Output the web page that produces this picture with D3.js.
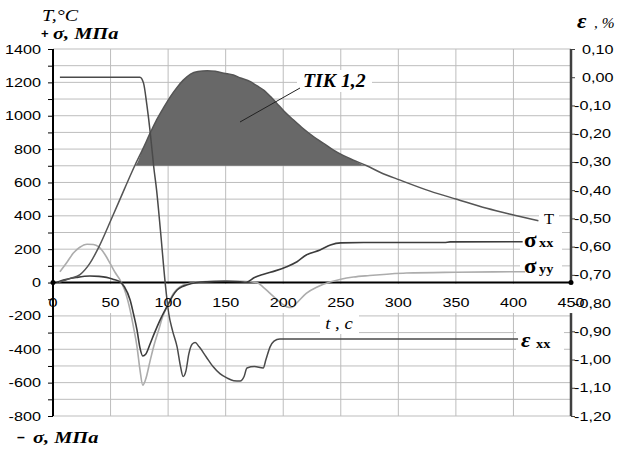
<!DOCTYPE html>
<html>
<head>
<meta charset="utf-8">
<script src="https://cdn.jsdelivr.net/npm/d3@7"></script>
<style>
body { margin: 0; background: #fff; }
svg { display: block; }
</style>
</head>
<body>
<div id="chart"></div>
<script>
// time ticks and axis ticks
const xTicks = [0, 50, 100, 150, 200, 250, 300, 350, 400, 450];
const leftTicks = [-800, -600, -400, -200, 0, 200, 400, 600, 800, 1000, 1200, 1400];
const rightTicks = [0.1, 0, -0.1, -0.2, -0.3, -0.4, -0.5, -0.6, -0.7, -0.8, -0.9, -1.0, -1.1, -1.2];

// temperature T, °C  [t, value]
const tempData = [
	[5, 0], [9, 11], [15, 25], [23.5, 48], [32, 115], [40, 215], [51, 385], [62, 560],
	[71, 700], [78, 800], [84.7, 900], [90, 975], [96.2, 1050], [102, 1115], [107.8, 1170],
	[113, 1212], [119.5, 1250], [126, 1265], [134, 1270], [141, 1266], [148.5, 1255],
	[156.7, 1244], [163, 1226], [171.5, 1204], [177, 1180], [183, 1154], [189, 1115],
	[194.5, 1074], [201, 1025], [209, 974], [217, 925], [226.5, 874], [235, 835],
	[243.7, 794], [252, 762], [261, 734], [272.6, 700], [284.5, 660], [301.6, 614],
	[327.6, 548], [350.8, 499], [376.8, 445], [400, 405], [421.7, 370]
];

// sigma xx, MPa
const sxxData = [
	[3, 0], [9, 15], [20, 30], [32, 39], [40, 37], [46.6, 31], [52, 20], [58, 5], [62, -25],
	[67, -105], [70, -190], [73, -285], [75.5, -390], [78, -440], [80.5, -430], [84.5, -365],
	[88, -305], [93, -225], [100.5, -125], [104, -80], [107.8, -45], [112, -25], [116, -15],
	[125, 0], [134, 5], [150, 8], [162.6, 5], [168, 2], [175, 30], [183, 50], [193, 70],
	[203, 95], [212, 125], [220, 165], [232, 195], [241, 225], [250, 238], [270, 240],
	[340, 240], [345, 244], [408, 245]
];

// sigma yy, MPa
const syyData = [
	[6, 65], [12, 120], [17.5, 175], [23, 210], [29.6, 230], [35, 228], [39.5, 215],
	[45, 170], [49.6, 115], [54, 60], [58.3, 15], [62, -40], [67, -165], [70, -270],
	[73, -385], [75.5, -520], [78, -615], [80.5, -580], [84.5, -465], [88, -370],
	[91.8, -285], [95, -210], [99, -145], [104.6, -65], [110.5, -25], [119, -5], [130, 5],
	[150, 10], [165, 8], [177, 0], [183, -30], [188.6, -65], [195, -105], [203, -145],
	[207, -150], [212, -120], [220, -65], [230, -25], [240.6, 3], [250, 20], [261, 33],
	[275, 42], [290, 50], [307, 57], [350, 62], [410, 65]
];

// epsilon xx, %
const epsData = [
	[6, 0], [75.5, 0], [78.6, -0.02], [81.6, -0.10], [84.5, -0.197], [87.5, -0.317],
	[90, -0.40], [93.5, -0.55], [97.5, -0.73], [100.5, -0.836], [104, -0.90],
	[107.8, -0.955], [110.8, -1.025], [113, -1.06], [115.5, -1.04], [118, -0.98],
	[121, -0.945], [123.5, -0.94], [127, -0.955], [133, -0.99], [139, -1.025],
	[145, -1.05], [151, -1.065], [157, -1.075], [162.6, -1.076], [166, -1.06],
	[168.5, -1.03], [175, -1.025], [182.6, -1.03], [185, -1.0], [188.6, -0.955],
	[192, -0.935], [197, -0.927], [404, -0.927]
];

const tikLevel = 700;

const width = 622, height = 462;
const svg = d3.select("#chart").append("svg")
	.attr("width", width)
	.attr("height", height);

const x = d3.scaleLinear().domain([0, 450]).range([53, 571]);
const yL = d3.scaleLinear().domain([-800, 1400]).range([416, 49]);
const yR = d3.scaleLinear().domain([-1.2, 0.1]).range([416, 49]);

const ruFormat = d3.formatLocale({decimal: ",", thousands: " ", grouping: [3], currency: ["", ""], minus: "-"}).format(".2f");

const sans = "'Liberation Sans', Arial, sans-serif";
const serif = "'Liberation Serif', 'Times New Roman', serif";

//text stretched sideways like in the picture
function stretched(g, px, py, txt, anchor, size, sx) {
	return g.append("text")
		.attr("transform", `translate(${px},${py}) scale(${sx},1)`)
		.attr("text-anchor", anchor)
		.style("font-family", sans)
		.style("font-size", size + "px")
		.text(txt);
}

//grid
const grid = svg.append("g");
grid.selectAll(".h").data(d3.range(-800, 1401, 100)).enter().append("line")
	.attr("x1", x(0)).attr("x2", x(450))
	.attr("y1", d => yL(d)).attr("y2", d => yL(d))
	.attr("stroke", "#bdbdbd").attr("stroke-width", 1);
grid.selectAll(".v").data(xTicks).enter().append("line")
	.attr("x1", d => x(d)).attr("x2", d => x(d))
	.attr("y1", yL(1400)).attr("y2", yL(-800))
	.attr("stroke", "#bdbdbd").attr("stroke-width", 1);

//right axis line + ticks
svg.append("line")
	.attr("x1", x(450)).attr("x2", x(450))
	.attr("y1", yR(0.1)).attr("y2", yR(-1.2))
	.attr("stroke", "#404040").attr("stroke-width", 2.5);
svg.append("g")
	.attr("transform", `translate(${x(450)},0)`)
	.call(d3.axisRight(yR).tickValues(rightTicks).tickSize(4).tickFormat(""))
	.call(g => g.select(".domain").remove())
	.selectAll("line").attr("stroke", "#404040");

//white band under the time labels
svg.append("rect")
	.attr("x", x(0) + 1).attr("y", yL(0) + 1.5)
	.attr("width", x(450) - x(0) + 2).attr("height", 29)
	.attr("fill", "#fff");

//white boxes behind labels
const boxes = [
	[297, 70, 75, 22],
	[320, 313, 39, 21],
	[539, 209, 20, 18],
	[520, 232, 42, 19],
	[520, 257, 42, 22],
	[516, 331, 48, 21]
];
svg.selectAll(".box").data(boxes).enter().append("rect")
	.attr("x", d => d[0]).attr("y", d => d[1])
	.attr("width", d => d[2]).attr("height", d => d[3])
	.attr("fill", "#fff");

//left axis
svg.append("g")
	.attr("transform", `translate(${x(0)},0)`)
	.call(d3.axisLeft(yL).tickValues(d3.range(-800, 1401, 100)).tickSize(5).tickFormat(""))
	.call(g => g.select(".domain").remove())
	.selectAll("line").attr("stroke", "#000");
svg.append("line")
	.attr("x1", x(0)).attr("x2", x(0))
	.attr("y1", yL(1400)).attr("y2", yL(-800))
	.attr("stroke", "#000").attr("stroke-width", 2);

//shaded TIK area
const area = d3.area()
	.x(d => x(d[0]))
	.y0(yL(tikLevel))
	.y1(d => yL(Math.max(d[1], tikLevel)))
	.curve(d3.curveMonotoneX);
svg.append("path")
	.datum(tempData)
	.attr("d", area)
	.attr("fill", "#686868");

//zero line
svg.append("line")
	.attr("x1", x(0)).attr("x2", x(450))
	.attr("y1", yL(0)).attr("y2", yL(0))
	.attr("stroke", "#000").attr("stroke-width", 2);
svg.selectAll(".dot").data([0, 450]).enter().append("circle")
	.attr("cx", d => x(d)).attr("cy", yL(0)).attr("r", 2.5).attr("fill", "#000");

//series lines
const lineL = d3.line().x(d => x(d[0])).y(d => yL(d[1])).curve(d3.curveMonotoneX);
const lineR = d3.line().x(d => x(d[0])).y(d => yR(d[1])).curve(d3.curveMonotoneX);

svg.append("path").datum(syyData).attr("d", lineL)
	.attr("fill", "none").attr("stroke", "#acacac").attr("stroke-width", 1.6);
svg.append("path").datum(sxxData).attr("d", lineL)
	.attr("fill", "none").attr("stroke", "#3c3c3c").attr("stroke-width", 1.6);
svg.append("path").datum(tempData).attr("d", lineL)
	.attr("fill", "none").attr("stroke", "#555").attr("stroke-width", 1.5);
svg.append("path").datum(epsData).attr("d", lineR)
	.attr("fill", "none").attr("stroke", "#4a4a4a").attr("stroke-width", 1.5);

//tick labels
const labels = svg.append("g").attr("fill", "#000");
leftTicks.forEach(v => stretched(labels, 41, yL(v) + 4.5, String(v), "end", 12, 1.35));
xTicks.forEach(v => stretched(labels, x(v), 307, String(v), "middle", 12, 1.35));
rightTicks.forEach(v => stretched(labels, v < 0 ? 574 : 582, yR(v) + 4.5, ruFormat(v), "start", 12, 1.35));

//serif titles, a bit wider too
function serifText(px, py, txt, size, style, weight, sx, anchor) {
	return svg.append("text")
		.attr("transform", `translate(${px},${py}) scale(${sx || 1},1)`)
		.attr("text-anchor", anchor || "start")
		.style("font-family", serif)
		.style("font-size", size + "px")
		.style("font-style", style)
		.style("font-weight", weight)
		.text(txt);
}

serifText(42, 21, "T,°C", 16, "italic", "normal", 1.25);
svg.append("text").attr("x", 41).attr("y", 38)
	.style("font-family", sans).style("font-size", "13px").style("font-weight", "bold").text("+");
serifText(53, 39, "σ, МПа", 17, "italic", "bold", 1.2);

svg.append("text").attr("x", 17).attr("y", 442)
	.style("font-family", sans).style("font-size", "14px").style("font-weight", "bold").text("–");
serifText(33, 443, "σ, МПа", 17, "italic", "bold", 1.2);

serifText(577, 28, "ε", 21, "italic", "bold", 1.1);
serifText(594, 28, ", %", 14, "italic", "normal", 1.1);

serifText(339, 329, "t , c", 17, "italic", "normal", 1.1, "middle");

serifText(303, 87, "TIK  1,2", 18, "italic", "bold", 1.1);
svg.append("line")
	.attr("x1", 300).attr("y1", 88).attr("x2", 240).attr("y2", 122)
	.attr("stroke", "#222").attr("stroke-width", 1);

//series labels
serifText(544, 224, "T", 15, "normal", "normal", 1.1);
serifText(524, 247, "σ", 21, "normal", "bold", 1.1);
serifText(539, 247, "xx", 13, "normal", "bold", 1.1);
serifText(524, 273, "σ", 21, "normal", "bold", 1.1);
serifText(539, 273, "yy", 13, "normal", "bold", 1.1);
serifText(521, 347, "ε", 21, "italic", "bold", 1.1);
serifText(536, 348, "xx", 13, "normal", "bold", 1.1);
</script>
</body>
</html>
